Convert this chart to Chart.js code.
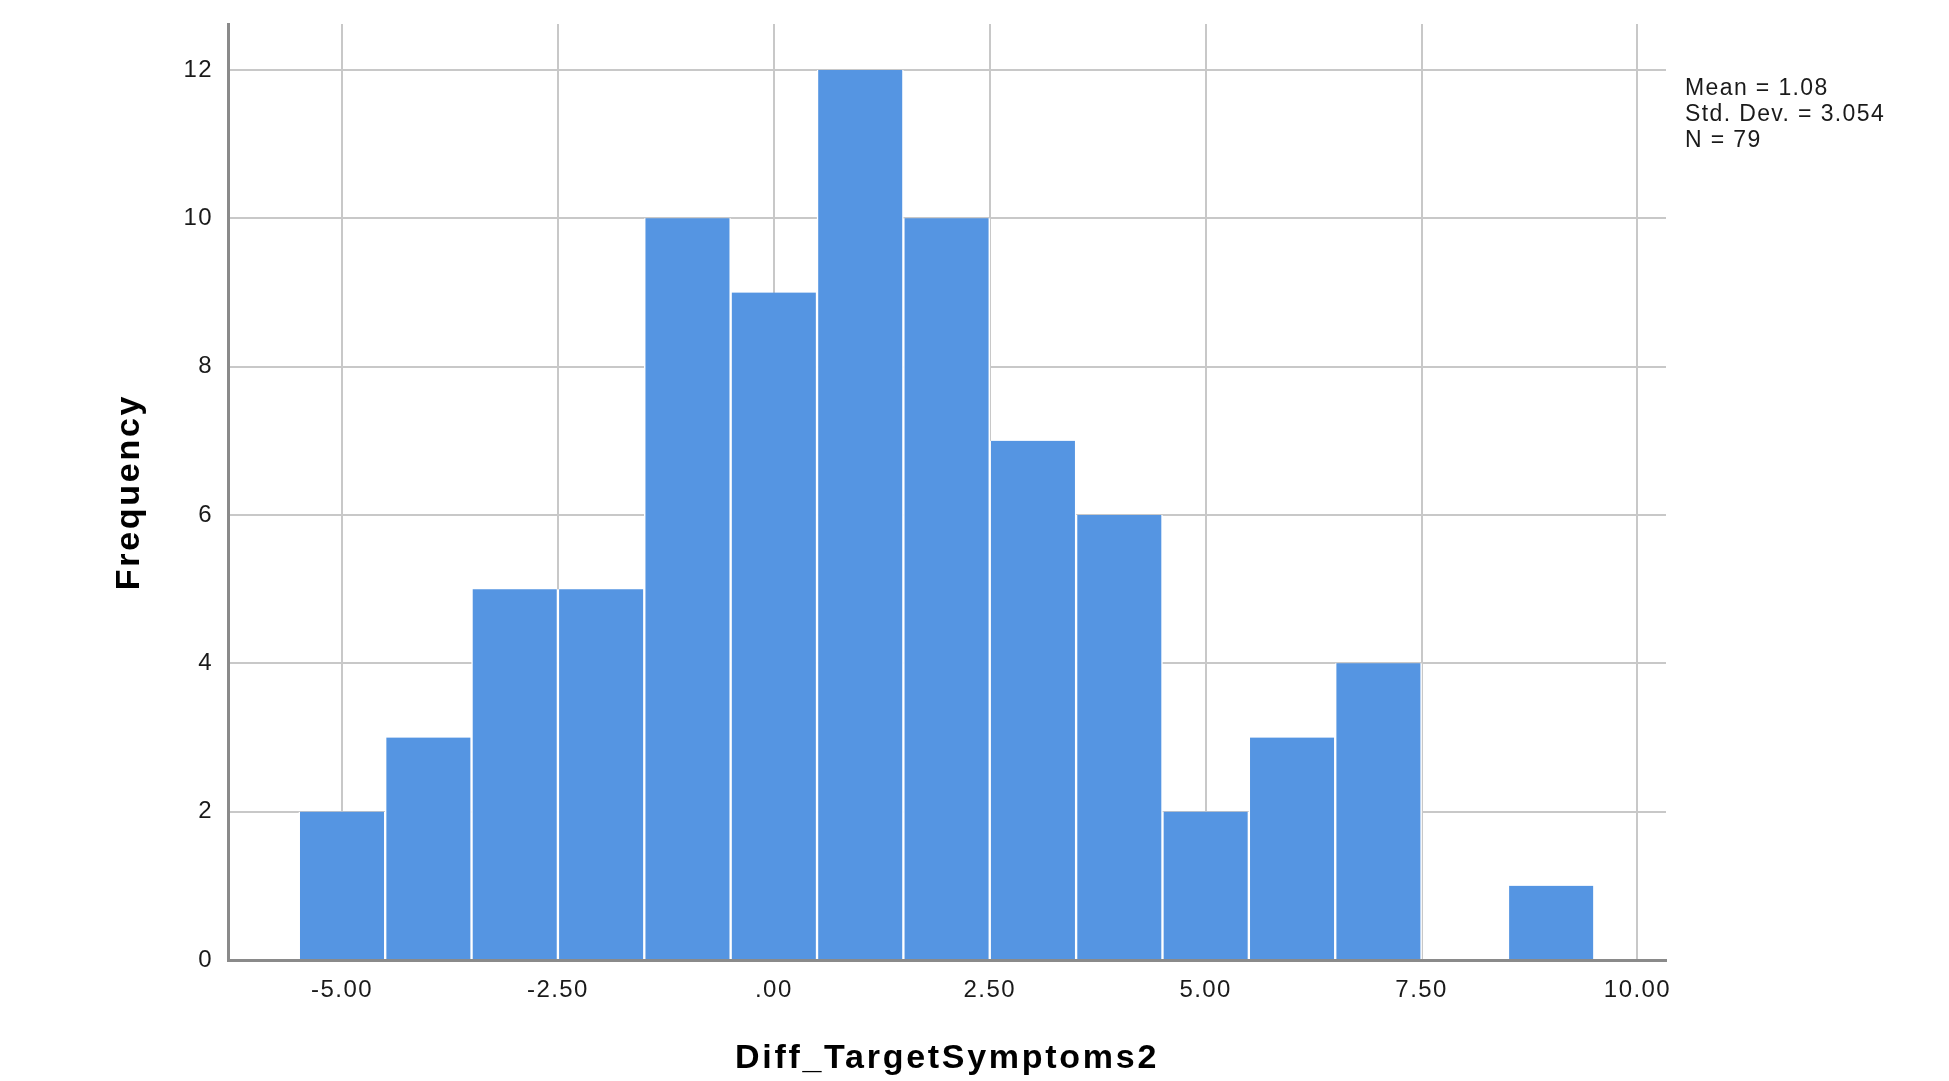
<!DOCTYPE html>
<html>
<head>
<meta charset="utf-8">
<script src="https://cdn.jsdelivr.net/npm/chart.js@4"></script>
<style>
  html, body { margin: 0; padding: 0; background: #ffffff; }
  #wrap { width: 1949px; height: 1081px; }
</style>
</head>
<body>
<div id="wrap"><canvas id="c" width="1949" height="1081"></canvas></div>
<script>
// ---- data ----
const binCenters = [-5, -4, -3, -2, -1, 0, 1, 2, 3, 4, 5, 6, 7, 8, 9];
const frequencies = [2, 3, 5, 5, 10, 9, 12, 10, 7, 6, 2, 3, 4, 0, 1];
const xTickValues = [-5, -2.5, 0, 2.5, 5, 7.5, 10];
const xTickLabels = ['-5.00', '-2.50', '.00', '2.50', '5.00', '7.50', '10.00'];
const yTickValues = [0, 2, 4, 6, 8, 10, 12];
const statsLines = ['Mean = 1.08', 'Std. Dev. = 3.054', 'N = 79'];
const xTitle = 'Diff_TargetSymptoms2';
const yTitle = 'Frequency';

const points = binCenters.map((x, i) => ({ x: x, y: frequencies[i] }));

const canvas = document.getElementById('c');
const ctx = canvas.getContext('2d');

// widen text spacing slightly to mimic the SPSS text rendering
const origFillText = ctx.fillText;
ctx.fillText = function (t, x, y, mw) {
  const m = /(\d+(?:\.\d+)?)px/.exec(this.font);
  const size = m ? parseFloat(m[1]) : 12;
  const factor = /bold/.test(this.font) ? 0.08 : 0.06;
  try { this.letterSpacing = (size * factor).toFixed(2) + 'px'; } catch (e) {}
  const r = mw === undefined ? origFillText.call(this, t, x, y) : origFillText.call(this, t, x, y, mw);
  try { this.letterSpacing = '0px'; } catch (e) {}
  return r;
};

const statsPlugin = {
  id: 'stats',
  afterDraw(chart) {
    const c = chart.ctx;
    const a = chart.chartArea;
    c.save();
    c.font = '23px "Liberation Sans", Arial, sans-serif';
    c.fillStyle = '#1a1a1a';
    c.textAlign = 'left';
    c.textBaseline = 'alphabetic';
    const offsets = [71, 97, 122.7];
    statsLines.forEach((s, i) => c.fillText(s, a.right + 19, a.top + offsets[i]));
    c.restore();
  }
};

new Chart(ctx, {
  type: 'bar',
  data: {
    datasets: [{
      data: points,
      backgroundColor: '#5595e2',
      borderColor: '#ffffff',
      borderWidth: { left: 1.5, right: 1.5, top: 0, bottom: 0 },
      borderSkipped: false,
      barPercentage: 1,
      categoryPercentage: 1
    }]
  },
  options: {
    responsive: false,
    animation: false,
    devicePixelRatio: 1,
    layout: { padding: { top: 24, right: 283, left: 0, bottom: 0 } },
    plugins: { legend: { display: false }, tooltip: { enabled: false }, title: { display: false } },
    scales: {
      x: {
        type: 'linear',
        min: -6.32,
        max: 10.33,
        offset: false,
        afterBuildTicks(scale) { scale.ticks = xTickValues.map(v => ({ value: v })); },
        afterFit(scale) { scale.height = 121; scale.paddingLeft = 0; scale.paddingRight = 0; },
        ticks: {
          callback: (v, i) => xTickLabels[i],
          font: { family: '"Liberation Sans", Arial, sans-serif', size: 24 },
          color: '#1a1a1a',
          padding: 16,
          maxRotation: 0,
          autoSkip: false
        },
        grid: { color: '#c8c8c8', lineWidth: 2, drawTicks: false, offset: false },
        border: { display: true, color: '#8a8a8a', width: 3 },
        title: {
          display: true,
          text: xTitle,
          font: { family: '"Liberation Sans", Arial, sans-serif', size: 34, weight: 'bold' },
          color: '#000000',
          padding: { top: 2, bottom: 2 }
        }
      },
      y: {
        type: 'linear',
        min: 0,
        max: 12.62,
        afterBuildTicks(scale) { scale.ticks = yTickValues.map(v => ({ value: v })); },
        afterFit(scale) { scale.width = 228; scale.paddingTop = 0; scale.paddingBottom = 0; },
        ticks: {
          callback: (v) => String(v),
          font: { family: '"Liberation Sans", Arial, sans-serif', size: 24 },
          color: '#1a1a1a',
          padding: 15
        },
        grid: { color: '#c8c8c8', lineWidth: 2, drawTicks: false },
        border: { display: true, color: '#8a8a8a', width: 3 },
        title: {
          display: true,
          text: yTitle,
          font: { family: '"Liberation Sans", Arial, sans-serif', size: 34, weight: 'bold' },
          color: '#000000',
          padding: { top: 109, bottom: 6 }
        }
      }
    }
  },
  plugins: [statsPlugin]
});
</script>
</body>
</html>
